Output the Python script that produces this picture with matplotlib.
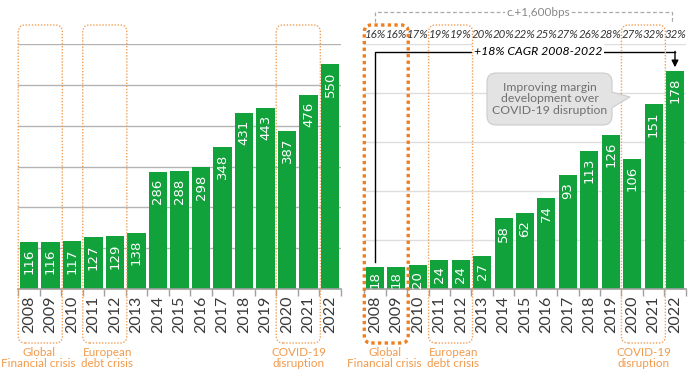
import matplotlib
matplotlib.use("Agg")
import matplotlib.pyplot as plt
from matplotlib.patches import FancyBboxPatch, Polygon
import numpy as np

plt.rcParams['font.family'] = ['DejaVu Sans']

years = ['2008', '2009', '2010', '2011', '2012', '2013', '2014', '2015',
         '2016', '2017', '2018', '2019', '2020', '2021', '2022']
revenue = [116, 116, 117, 127, 129, 138, 286, 288, 298, 348, 431, 443, 387, 476, 550]
ebitda = [18, 18, 20, 24, 24, 27, 58, 62, 74, 93, 113, 126, 106, 151, 178]
margins = ['16%', '16%', '17%', '19%', '19%', '20%', '20%', '22%', '25%', '27%',
           '26%', '28%', '27%', '32%', '32%']
crises = [("Global\nFinancial crisis", 0, 1, 0.45),
          ("European\ndebt crisis", 3, 4, 3.65),
          ("COVID-19\ndisruption", 12, 13, 12.55)]

GREEN = '#12a23c'
ORANGE = '#f0a058'
ORANGE_TXT = '#f29a4a'
ORANGE_DARK = '#f07e1e'
LIGHT = dict(family=['Lato', 'DejaVu Sans'], fontweight='normal')

W, H = 699, 378
fig = plt.figure(figsize=(W / 100, H / 100), dpi=100)
bottom = (H - 289) / H
height = (289 - 44) / H
ax1 = fig.add_axes([18.25 / W, bottom, 322.5 / W, height])
ax2 = fig.add_axes([364.3 / W, bottom, 321.4 / W, height])
AX_H_PX = 289 - 44

x = np.arange(len(years))


def style(ax, ymax, step, gridcolor):
    ax.set_xlim(-0.5, len(years) - 0.5)
    ax.set_ylim(0, ymax)
    ax.set_yticks(np.arange(step, ymax + 1, step))
    ax.yaxis.grid(True, color=gridcolor, lw=1)
    ax.set_axisbelow(True)
    ax.tick_params(axis='y', left=False, labelleft=False)
    for s in ['left', 'right', 'top']:
        ax.spines[s].set_visible(False)
    ax.spines['bottom'].set_color('#a0a0a0')
    ax.spines['bottom'].set_linewidth(1.2)
    ax.set_xticks(x)
    ax.set_xticklabels(years, rotation=90, fontsize=11.5, color='#3a3a3a', **LIGHT)
    ax.tick_params(axis='x', which='major', length=0, pad=5)
    ax.set_xticks(np.arange(-0.5, len(years), 1), minor=True)
    ax.tick_params(axis='x', which='minor', length=5, color='#a0a0a0', width=1)


def bars(ax, vals, ymax):
    ax.bar(x, vals, width=0.84, color=GREEN, zorder=2)
    k = AX_H_PX / ymax
    for xi, v in zip(x, vals):
        s = str(v)
        tl = 8.0 * len(s)
        top = max(v * k - 7, tl + 2)
        top = min(top, v * k - 2)
        ax.annotate(s, (xi, 0), xytext=(0, top * 0.72), textcoords='offset points',
                    rotation=90, ha='center', va='top', color='white',
                    fontsize=9.5, zorder=3)


def crisis_boxes(ax, thick_first=False):
    fig.canvas.draw()
    for i, (label, a, b, tx) in enumerate(crises):
        x0 = ax.transData.transform((a - 0.5, 0))[0]
        x1 = ax.transData.transform((b + 0.55, 0))[0]
        y0, y1 = H - 343, H - 25
        if thick_first and i == 0:
            lw, col, ls = 2.4, ORANGE_DARK, (0, (1, 1))
        else:
            lw, col, ls = 1.0, ORANGE, (0, (1, 1.2))
        p = FancyBboxPatch((x0, y0), x1 - x0, y1 - y0,
                           boxstyle="round,pad=0,rounding_size=7",
                           transform=None, fill=False, ec=col, lw=lw, ls=ls,
                           zorder=5, clip_on=False)
        fig.add_artist(p)
        ax.annotate(label, xy=(tx, H - 347), xycoords=('data', 'figure pixels'),
                    ha='center', va='top', fontsize=8.4, color=ORANGE_TXT,
                    linespacing=1.0, annotation_clip=False, **LIGHT)


style(ax1, 600, 100, '#b4b4b4')
bars(ax1, revenue, 600)
style(ax2, 200, 40, '#dedede')
bars(ax2, ebitda, 200)

crisis_boxes(ax1)
crisis_boxes(ax2, thick_first=True)

# margin row
for xi, m in zip(x, margins):
    ax2.text(xi, 208, m, ha='center', va='center', fontsize=8.3,
             style='italic', color='#333333', clip_on=False, zorder=6,
             family=['Lato', 'DejaVu Sans'])

# c.+1,600bps bracket
ax2.plot([0, 0, 13.85, 13.85], [218, 226, 226, 218], color='#a8a8a8', lw=0.9,
         ls=(0, (3, 2)), clip_on=False)
ax2.text(7.6, 226, 'c.+1,600bps', ha='center', va='center', fontsize=8.5,
         color='#888888', bbox=dict(fc='white', ec='none', pad=0.5), clip_on=False,
         **LIGHT)

# CAGR line
ax2.plot([0, 0, 14], [22, 193.5, 193.5], color='black', lw=1.0, zorder=4)
ax2.annotate('', xy=(14, 181), xytext=(14, 194),
             arrowprops=dict(arrowstyle='-|>,head_width=0.2,head_length=0.4',
                             color='black', lw=1.0, shrinkA=0, shrinkB=0), zorder=4)
ax2.text(7.6, 193.5, '+18% CAGR 2008-2022', ha='center', va='center',
         fontsize=8.8, style='italic', color='black',
         bbox=dict(fc='white', ec='none', pad=1.5), zorder=5,
         family=['Lato', 'DejaVu Sans'])

# callout (figure pixel coordinates)
cb = FancyBboxPatch((487, H - 125), 125, 52, boxstyle="round,pad=0,rounding_size=9",
                    transform=None, fc='#e3e3e3', ec='#cccccc', lw=0.8, zorder=6)
fig.add_artist(cb)
tail_pts = [(611.5, H - 92), (630, H - 97), (611.5, H - 108)]
fig.add_artist(Polygon(tail_pts, closed=False, transform=None, fc='#e3e3e3',
                       ec='#cccccc', lw=0.8, zorder=6.1))
fig.add_artist(Polygon([(610, H - 92.5), (612.3, H - 92.5), (612.3, H - 107.5), (610, H - 107.5)],
                       transform=None, fc='#e3e3e3', ec='none', zorder=6.2))
fig.text(549.5 / W, (H - 99) / H, 'Improving margin\ndevelopment over\nCOVID-19 disruption',
         ha='center', va='center', fontsize=8.8, color='#707070',
         linespacing=1.05, zorder=7, **LIGHT)

fig.savefig('out.png', dpi=100)
